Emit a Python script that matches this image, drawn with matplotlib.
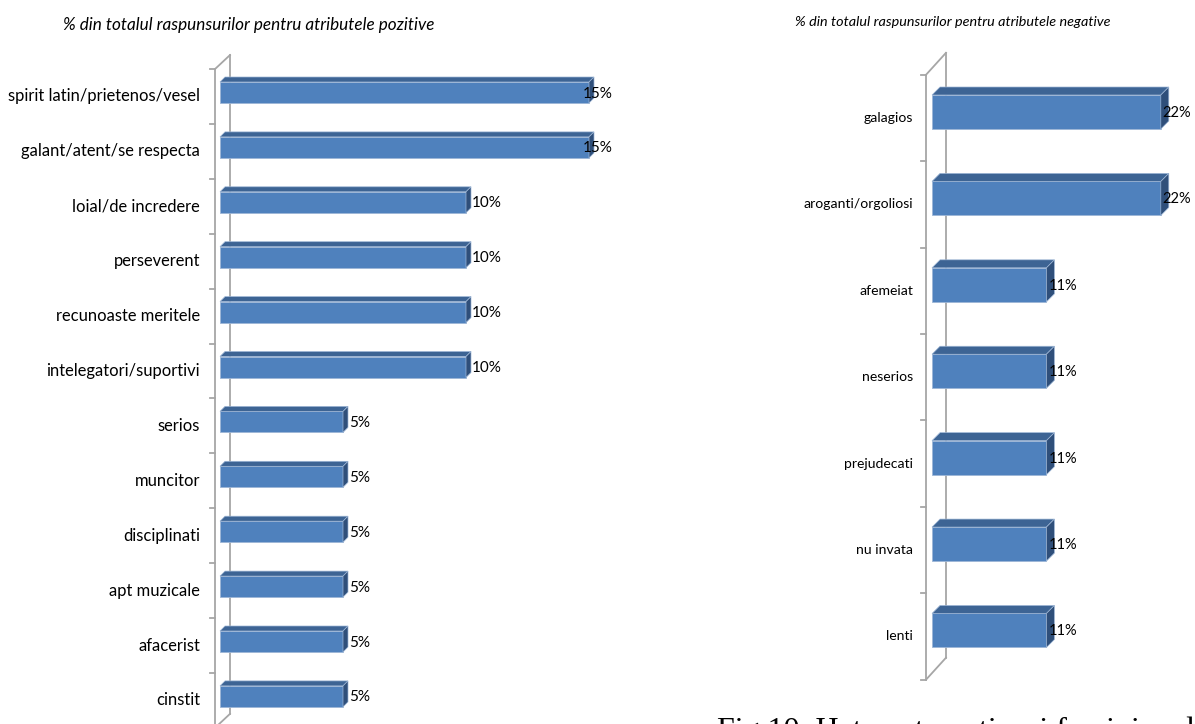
import matplotlib.pyplot as plt
from matplotlib.patches import Polygon

# ---- data ----
pos_labels = ['spirit latin/prietenos/vesel', 'galant/atent/se respecta', 'loial/de incredere',
              'perseverent', 'recunoaste meritele', 'intelegatori/suportivi', 'serios',
              'muncitor', 'disciplinati', 'apt muzicale', 'afacerist', 'cinstit']
pos_values = [15, 15, 10, 10, 10, 10, 5, 5, 5, 5, 5, 5]

neg_labels = ['galagios', 'aroganti/orgoliosi', 'afemeiat', 'neserios',
              'prejudecati', 'nu invata', 'lenti']
neg_values = [22, 22, 11, 11, 11, 11, 11]

pos_title = '% din totalul raspunsurilor pentru atributele pozitive'
neg_title = '% din totalul raspunsurilor pentru atributele negative'
caption = 'Fig.10. Heterostereotipuri feminine despre italieni'

FRONT = '#4f81bd'
TOP = '#3d6494'
SIDE = '#2f4f7a'
EDGE = '#9db6d6'
WALL = '#a6a6a6'
FONT = 'Lato'

W, H = 1195, 724
fig = plt.figure(figsize=(W / 100, H / 100), dpi=100)


def px_axes(x0, x1, y_top, y_bot):
    # axes placed with pixel coordinates measured from the top-left corner
    return fig.add_axes([x0 / W, 1 - y_bot / H, (x1 - x0) / W, (y_bot - y_top) / H])


def draw_chart(ax, labels, values, xmax, bar_h, depth, front_x, back_x, wall_dy,
               tick_shift, label_pad, fs_cat, fs_val, val_dx, val_limit):
    n = len(labels)
    ax.set_xlim(0, xmax)
    ax.set_ylim(n - 0.5, -0.5)
    ax.axis('off')
    ux = ax.bbox.width / xmax      # pixels per %
    uy = ax.bbox.height / n        # pixels per row
    dx, dy = depth / ux, depth / uy

    # pseudo 3D walls (front + back line, ticks)
    s = tick_shift / uy
    xf, xb, wd = front_x / ux, back_x / ux, wall_dy / uy
    y0, y1 = -0.5 + s, n - 0.5 + s
    kw = dict(color=WALL, lw=1.3, clip_on=False, zorder=1)
    ax.plot([xf, xf], [y0, y1], **kw)
    ax.plot([xb, xb], [y0 - wd, y1 - wd], **kw)
    ax.plot([xf, xb], [y0, y0 - wd], **kw)
    ax.plot([xf, xb], [y1, y1 - wd], **kw)
    for k in range(n + 1):
        ax.plot([xf - 5 / ux, xf], [y0 + k, y0 + k], **kw)

    # bars
    ax.barh(range(n), values, height=bar_h, color=FRONT, edgecolor=EDGE,
            linewidth=0.6, zorder=3, clip_on=False)
    for i, v in enumerate(values):
        t = i - bar_h / 2
        ax.add_patch(Polygon([(0, t), (v, t), (v + dx, t - dy), (dx, t - dy)],
                             closed=True, fc=TOP, ec=EDGE, lw=0.5, zorder=3, clip_on=False))
        ax.add_patch(Polygon([(v, t), (v + dx, t - dy), (v + dx, t + bar_h - dy), (v, t + bar_h)],
                             closed=True, fc=SIDE, ec=EDGE, lw=0.5, zorder=3, clip_on=False))

        # value label
        lab = f'{v}%'
        if v * ux + val_dx + 28 > val_limit:
            ax.text(val_limit / ux, i + 1 / uy, lab, ha='right', va='center',
                    fontsize=fs_val, family=FONT, zorder=5, clip_on=False)
        else:
            ax.text(v + val_dx / ux, i + 1 / uy, lab, ha='left', va='center',
                    fontsize=fs_val, family=FONT, zorder=5, clip_on=False)

        # category label
        ax.text(-label_pad / ux, i + s, labels[i], ha='right', va='center',
                fontsize=fs_cat, family=FONT, clip_on=False)


# left chart: positive attributes
ax1 = px_axes(220, 220 + 16 * 24.6, 65.05, 723.85)
draw_chart(ax1, pos_labels, pos_values, 16, 21 / 54.9, 5, -5, 10, 14,
           4, 20, 11.9, 11, 6, 393)

# right chart: negative attributes
ax2 = px_axes(932, 932 + 25 * 10.4, 68.8, 673.7)
draw_chart(ax2, neg_labels, neg_values, 25, 34 / 86.4, 8, -6, 14, 22,
           6, 19, 10.1, 10.5, 2, 260)

fig.text(63 / W, 1 - 25 / H, pos_title, ha='left', va='center', fontsize=12.3,
         style='italic', family=FONT)
fig.text(795 / W, 1 - 22 / H, neg_title, ha='left', va='center', fontsize=10.4,
         style='italic', family=FONT)
fig.text(717 / W, 1 - 739 / H, caption, ha='left', va='baseline', fontsize=23,
         family='Liberation Serif')

fig.savefig('out.png', dpi=100)
